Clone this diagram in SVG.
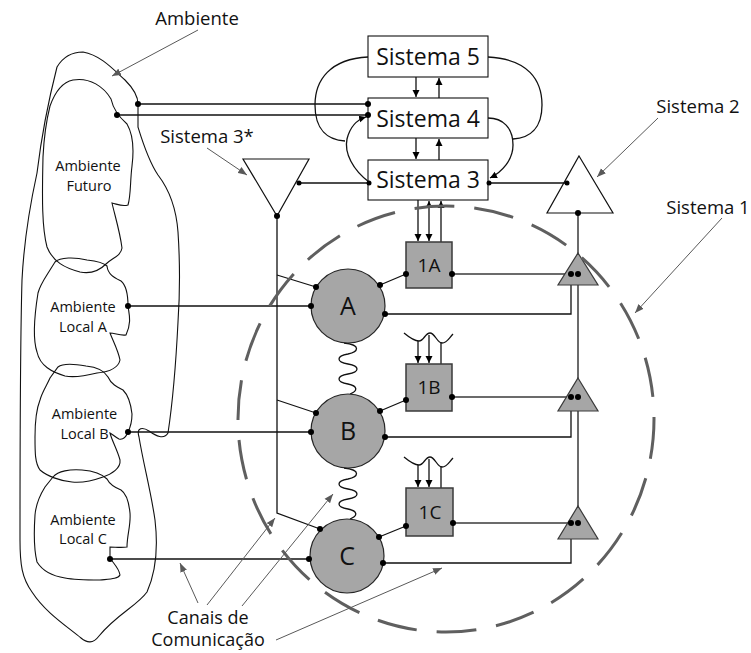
<svg xmlns="http://www.w3.org/2000/svg" width="751" height="653" viewBox="0 0 751 653">
  <style>
    text { font-family: "Open Sans", "Noto Sans", "Liberation Sans", sans-serif; fill: #111; }
    .big { font-size: 23px; text-anchor: middle; }
    .lbl { font-size: 18.5px; text-anchor: middle; }
    .cap { font-size: 18px; text-anchor: middle; }
    .amb { font-size: 14.5px; text-anchor: middle; }
    .unit { font-size: 19px; text-anchor: middle; }
    .let { font-size: 25px; text-anchor: middle; }
    .blob { fill: none; stroke: #111; stroke-width: 1.1; }
    .ln { fill: none; stroke: #111; stroke-width: 1.3; }
    .gl { fill: none; stroke: #3a3a3a; stroke-width: 1.5; }
    .ptr { fill: none; stroke: #595959; stroke-width: 1; }
    .box { fill: #fff; stroke: #111; stroke-width: 1.1; }
    .op { fill: #a6a6a6; stroke: #3a3a3a; stroke-width: 1.5; }
    .org { fill: #a6a6a6; stroke: #262626; stroke-width: 1.2; }
    .tri { fill: #a6a6a6; stroke: #3a3a3a; stroke-width: 1.2; }
    .wtri { fill: #fff; stroke: #111; stroke-width: 1.2; }
    .dot { fill: #000; }
    .dash { fill: none; stroke: #5f5f5f; stroke-width: 3; stroke-dasharray: 40 20; }
  </style>
  <defs>
    <marker id="ah" markerWidth="8" markerHeight="8" refX="7" refY="4" orient="auto-start-reverse" markerUnits="userSpaceOnUse">
      <path d="M0,0.5 L7,4 L0,7.5 Z" fill="#000"/>
    </marker>
    <marker id="gh" markerWidth="10" markerHeight="8" refX="9" refY="4" orient="auto" markerUnits="userSpaceOnUse">
      <path d="M0,0.5 L9,4 L0,7.5 Z" fill="#595959"/>
    </marker>
  </defs>

  <!-- environment outlines -->
  <g id="ambiente">
    <path class="blob" d="M83,52 C100,55 112,68 125,80 C133,88 138,95 138,104 L138,127 C142,140 148,160 158,175 C168,188 176,205 178,232 C180,262 180,292 178,322 C176,362 173,400 168,433 C164,440 156,436 149,431 C143,427 136,427 139,437 C143,462 151,492 155,520 C158,546 156,572 147,592 C137,606 117,614 99,636 C93,644 87,643 81,638 C65,625 45,612 32,592 C22,578 20,565 20,540 C20,450 20,350 22,280 C24,240 30,205 37,173 C41,140 46,110 57,67 C63,57 72,52 83,52 Z"/>
    <text class="lbl" x="197" y="25">Ambiente</text>
  </g>
  <g id="ambiente-futuro">
    <path class="blob" d="M73,80 C90,77 104,87 111,99 C113,108 119,117 127,124 C134,136 134,150 132,166 C130,182 131,195 128,205 C122,207 117,204 112,203 C115,216 120,232 122,248 C121,256 112,258 106,264 C99,271 90,274 80,272 C65,268 53,262 47,247 C42,228 42,200 43,157 C44,136 47,118 50,106 C55,92 63,82 73,80 Z"/>
    <text class="amb" x="88" y="171">Ambiente</text>
    <text class="amb" x="89" y="191">Futuro</text>
  </g>
  <g id="ambiente-local-a">
    <path class="blob" d="M55,262 C60,257 75,257 87,260 C96,261 103,262 107,266 C108,275 115,278 121,281 C127,286 128,295 128,306 C129,314 132,322 126,335 C120,336 115,333 110,333 C113,341 118,350 120,360 C118,369 108,372 97,373 C85,376 75,378 65,376 C52,372 40,366 37,352 C33,340 34,318 38,293 C40,285 45,278 50,270 Z"/>
    <text class="amb" x="83" y="312">Ambiente</text>
    <text class="amb" x="83" y="332">Local A</text>
  </g>
  <g id="ambiente-local-b">
    <path class="blob" d="M58,367 C63,363 75,364 86,366 C96,367 104,370 108,377 C111,384 117,387 123,390 C129,396 131,405 132,414 C132,422 130,428 128,432 C126,437 123,440 119,439 C115,437 112,434 110,433 C112,441 117,449 120,460 C121,468 112,474 103,477 C92,481 82,483 72,482 C60,481 47,476 40,470 C35,463 35,453 35,437 C35,425 36,410 40,400 C42,392 47,385 50,378 Z"/>
    <text class="amb" x="84.5" y="419">Ambiente</text>
    <text class="amb" x="84.5" y="439">Local B</text>
  </g>
  <g id="ambiente-local-c">
    <path class="blob" d="M53,477 C58,471 70,469 82,470 C94,471 102,474 107,479 C110,485 116,488 121,490 C127,494 129,503 130,513 C131,525 127,535 127,547 C121,548 115,547 110,547 C110,552 110,555 110,558 C113,563 119,568 120,575 C118,579 110,579 100,580 C88,580 75,580 65,578 C52,576 42,570 37,562 C34,550 34,530 35,515 C36,503 40,495 45,487 Z"/>
    <text class="amb" x="83" y="525">Ambiente</text>
    <text class="amb" x="83" y="544">Local C</text>
  </g>

  <!-- management systems -->
  <g id="sistema-5">
    <rect class="box" x="368" y="36" width="120" height="41"/>
    <text class="big" x="428" y="65">Sistema 5</text>
  </g>
  <g id="sistema-4">
    <rect class="box" x="368" y="98" width="120" height="40"/>
    <text class="big" x="428" y="127">Sistema 4</text>
  </g>
  <g id="sistema-3">
    <rect class="box" x="368" y="160" width="120" height="40"/>
    <text class="big" x="428" y="188">Sistema 3</text>
  </g>
  <g id="sistema-3-estrela">
    <path class="wtri" d="M243,159 L309,159 L277,216 Z"/>
    <text class="lbl" x="207" y="143">Sistema 3*</text>
  </g>
  <g id="sistema-2">
    <path class="wtri" d="M579,156 L613,213 L547,213 Z"/>
    <text class="lbl" x="698" y="113">Sistema 2</text>
  </g>
  <g id="sistema-1-label">
    <text class="lbl" x="708" y="214">Sistema 1</text>
  </g>
  <g id="canais-label">
    <text class="cap" x="208" y="624">Canais de</text>
    <text class="cap" x="208" y="646">Comunicação</text>
  </g>

  <!-- connectors -->
  <g id="connectors">
    <!-- S5 / S4 / S3 -->
    <line class="ln" x1="416" y1="77" x2="416" y2="97" marker-end="url(#ah)"/>
    <line class="ln" x1="439" y1="98" x2="439" y2="78" marker-end="url(#ah)"/>
    <line class="ln" x1="416" y1="138" x2="416" y2="159" marker-end="url(#ah)"/>
    <line class="ln" x1="439" y1="160" x2="439" y2="139" marker-end="url(#ah)"/>
    <path class="ln" d="M368,57 C330,59 315,80 315,105 C315,130 328,140 345,141"/>
    <path class="ln" d="M369,182 C353,170 344,153 347,139 C350,127 356,120 366,117" marker-end="url(#ah)"/>
    <path class="ln" d="M488,57 C528,59 542,80 542,105 C542,128 530,138 513,139"/>
    <path class="ln" d="M488,118 C503,118 513,128 513,145 C513,160 502,172 490,178" marker-end="url(#ah)"/>
    <!-- S4 to environment -->
    <polyline class="ln" points="138,104 368,104"/>
    <polyline class="ln" points="117,115 368,115"/>
    <!-- S3 to S3* and S2 -->
    <line class="ln" x1="299" y1="183" x2="369" y2="183"/>
    <line class="ln" x1="488" y1="183" x2="567" y2="183"/>
    <!-- S3* audit channel -->
    <polyline class="ln" points="277,216 277,513 320,529"/>
    <line class="ln" x1="277" y1="275" x2="316" y2="287"/>
    <line class="ln" x1="277" y1="400" x2="316" y2="413"/>
    <!-- S3 to 1A -->
    <line class="ln" x1="418" y1="200" x2="418" y2="241" marker-end="url(#ah)"/>
    <line class="ln" x1="429" y1="201" x2="429" y2="241" marker-start="url(#ah)" marker-end="url(#ah)"/>
    <line class="ln" x1="441" y1="242" x2="441" y2="201" marker-end="url(#ah)"/>
    <!-- 1B and 1C inputs -->
    <path class="ln" d="M404,333 C410,338 414,341 419,341 C424,341 425,333 430,333 C435,333 437,343 442,343 C447,343 449,338 453,334"/>
    <line class="ln" x1="418" y1="341" x2="418" y2="363" marker-end="url(#ah)"/>
    <line class="ln" x1="429" y1="335" x2="429" y2="363" marker-end="url(#ah)"/>
    <line class="ln" x1="441" y1="342" x2="441" y2="364"/>
    <path class="ln" d="M404,457 C410,462 414,465 419,465 C424,465 425,457 430,457 C435,457 437,467 442,467 C447,467 449,462 453,458"/>
    <line class="ln" x1="418" y1="465" x2="418" y2="487" marker-end="url(#ah)"/>
    <line class="ln" x1="429" y1="459" x2="429" y2="487" marker-end="url(#ah)"/>
    <line class="ln" x1="441" y1="466" x2="441" y2="488"/>
    <!-- environments to operations -->
    <line class="ln" x1="128" y1="306" x2="311" y2="306"/>
    <line class="ln" x1="128" y1="432" x2="311" y2="432"/>
    <line class="ln" x1="110" y1="559" x2="309" y2="559"/>
    <!-- operations to management units -->
    <line class="ln" x1="380" y1="285" x2="406" y2="274"/>
    <line class="ln" x1="380" y1="411" x2="406" y2="400"/>
    <line class="ln" x1="379" y1="537" x2="406" y2="526"/>
    <!-- to S2 regulators -->
    <line class="gl" x1="578" y1="213" x2="578" y2="523"/>
    <line class="gl" x1="452" y1="274" x2="578" y2="274"/>
    <line class="gl" x1="452" y1="397" x2="578" y2="397"/>
    <line class="gl" x1="453" y1="523" x2="578" y2="523"/>
    <polyline class="ln" points="385,314 571,314 571,274"/>
    <polyline class="ln" points="385,437 571,437 571,397"/>
    <polyline class="ln" points="383,563 571,563 571,523"/>
    <!-- springs between operations -->
    <path class="ln" d="M344,343 C362,345 358,352 348,354 C336,356 336,362 348,364 C360,366 360,372 348,374 C336,376 336,382 348,384 C358,386 358,391 350,394"/>
    <path class="ln" d="M344,468 C362,470 358,477 348,479 C336,481 336,487 348,489 C360,491 360,497 348,499 C336,501 336,507 348,509 C358,511 358,516 350,519"/>
  </g>

  <!-- operational units -->
  <g id="unidade-1a">
    <rect class="op" x="406" y="242" width="46" height="46"/>
    <text class="unit" x="429" y="272">1A</text>
  </g>
  <g id="unidade-1b">
    <rect class="op" x="406" y="364" width="46" height="47"/>
    <text class="unit" x="429" y="394">1B</text>
  </g>
  <g id="unidade-1c">
    <rect class="op" x="406" y="488" width="47" height="48"/>
    <text class="unit" x="430" y="519">1C</text>
  </g>
  <g id="operacao-a">
    <circle class="org" cx="348" cy="306" r="37"/>
    <text class="let" x="348" y="315">A</text>
  </g>
  <g id="operacao-b">
    <circle class="org" cx="348" cy="431" r="37"/>
    <text class="let" x="348" y="440">B</text>
  </g>
  <g id="operacao-c">
    <circle class="org" cx="347" cy="556" r="37"/>
    <text class="let" x="347" y="565">C</text>
  </g>
  <g id="regulador-a"><path class="tri" d="M578,253 L598,285 L558,285 Z"/></g>
  <g id="regulador-b"><path class="tri" d="M578,378 L598,411 L558,411 Z"/></g>
  <g id="regulador-c"><path class="tri" d="M578,506 L598,539 L558,539 Z"/></g>

  <!-- junction dots -->
  <g id="dots">
    <circle class="dot" cx="368" cy="104" r="3"/>
    <circle class="dot" cx="368" cy="115" r="3"/>
    <circle class="dot" cx="138" cy="104" r="3"/>
    <circle class="dot" cx="117" cy="115" r="3"/>
    <circle class="dot" cx="369" cy="183" r="2.5"/>
    <circle class="dot" cx="489" cy="183" r="2.5"/>
    <circle class="dot" cx="299" cy="183" r="2.5"/>
    <circle class="dot" cx="277" cy="216" r="3"/>
    <circle class="dot" cx="567" cy="183" r="2.5"/>
    <circle class="dot" cx="578" cy="213" r="3"/>
    <circle class="dot" cx="128" cy="306" r="3"/>
    <circle class="dot" cx="128" cy="432" r="3"/>
    <circle class="dot" cx="110" cy="559" r="3"/>
    <circle class="dot" cx="316" cy="287" r="3"/>
    <circle class="dot" cx="311" cy="306" r="3"/>
    <circle class="dot" cx="380" cy="285" r="3"/>
    <circle class="dot" cx="385" cy="314" r="3"/>
    <circle class="dot" cx="406" cy="274" r="3"/>
    <circle class="dot" cx="452" cy="274" r="3"/>
    <circle class="dot" cx="571" cy="274" r="3"/>
    <circle class="dot" cx="578" cy="274" r="3"/>
    <circle class="dot" cx="316" cy="413" r="3"/>
    <circle class="dot" cx="311" cy="432" r="3"/>
    <circle class="dot" cx="380" cy="411" r="3"/>
    <circle class="dot" cx="385" cy="437" r="3"/>
    <circle class="dot" cx="406" cy="400" r="3"/>
    <circle class="dot" cx="452" cy="397" r="3"/>
    <circle class="dot" cx="571" cy="397" r="3"/>
    <circle class="dot" cx="578" cy="397" r="3"/>
    <circle class="dot" cx="320" cy="529" r="3"/>
    <circle class="dot" cx="309" cy="559" r="3"/>
    <circle class="dot" cx="379" cy="537" r="3"/>
    <circle class="dot" cx="383" cy="563" r="3"/>
    <circle class="dot" cx="406" cy="526" r="3"/>
    <circle class="dot" cx="453" cy="523" r="3"/>
    <circle class="dot" cx="571" cy="523" r="3"/>
    <circle class="dot" cx="578" cy="523" r="3"/>
  </g>

  <!-- system 1 boundary -->
  <g id="sistema-1">
    <ellipse class="dash" cx="446" cy="419" rx="208" ry="213"/>
  </g>

  <!-- label pointers -->
  <g id="pointers">
    <line class="ptr" x1="198" y1="30" x2="112" y2="76" marker-end="url(#gh)"/>
    <line class="ptr" x1="207" y1="148" x2="247" y2="175" marker-end="url(#gh)"/>
    <line class="ptr" x1="658" y1="118" x2="597" y2="177" marker-end="url(#gh)"/>
    <line class="ptr" x1="722" y1="218" x2="635" y2="313" marker-end="url(#gh)"/>
    <line class="ptr" x1="198" y1="603" x2="180" y2="563" marker-end="url(#gh)"/>
    <line class="ptr" x1="207" y1="605" x2="275" y2="518" marker-end="url(#gh)"/>
    <line class="ptr" x1="242" y1="606" x2="333" y2="494" marker-end="url(#gh)"/>
    <line class="ptr" x1="276" y1="640" x2="442" y2="568" marker-end="url(#gh)"/>
  </g>
</svg>
